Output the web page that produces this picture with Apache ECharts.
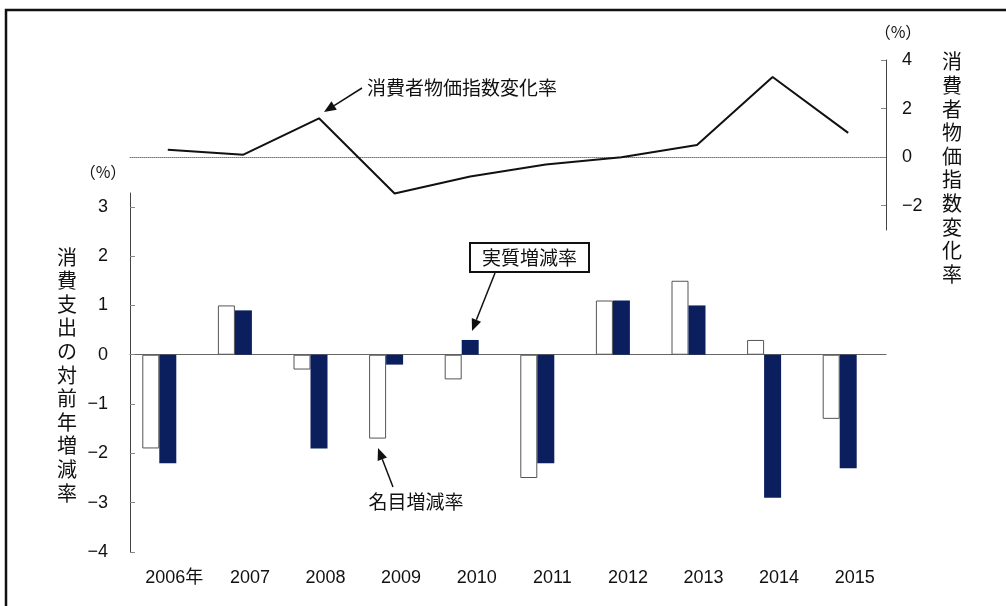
<!DOCTYPE html>
<html>
<head>
<meta charset="utf-8">
<script src="https://cdn.jsdelivr.net/npm/echarts@6/dist/echarts.min.js"></script>
<style>
html,body{margin:0;padding:0;background:#fff;}
#chart{width:1006px;height:606px;}
</style>
</head>
<body>
<div id="chart"></div>
<script>
// ---- data ----
const years = ['2006年','2007','2008','2009','2010','2011','2012','2013','2014','2015'];
const nominal = [-1.9, 1.0, -0.3, -1.7, -0.5, -2.5, 1.1, 1.5, 0.3, -1.3];
const real = [-2.2, 0.9, -1.9, -0.2, 0.3, -2.2, 1.1, 1.0, -2.9, -2.3];
const cpi = [0.3, 0.1, 1.6, -1.5, -0.8, -0.3, 0.0, 0.5, 3.3, 1.0];
const leftTicks = [-4, -3, -2, -1, 0, 1, 2, 3];
const rightTicks = [-2, 0, 2, 4];
const leftName = '消費支出の対前年増減率';
const rightName = '消費者物価指数変化率';
const spacer = years.map(() => null);

const NUM = '"Liberation Sans Narrow","Liberation Sans","Noto Sans CJK JP",sans-serif';
const CJK = '"Noto Sans CJK JP",sans-serif';
const minus = v => String(v).replace('-', '−');

function arrow(x1, y1, x2, y2) {
  const dx = x2 - x1, dy = y2 - y1, L = Math.hypot(dx, dy);
  const ux = dx / L, uy = dy / L, hl = 12, hw = 5;
  const bx = x2 - ux * hl, by = y2 - uy * hl;
  return [
    { type: 'line', shape: { x1: x1, y1: y1, x2: bx, y2: by }, style: { stroke: '#111', lineWidth: 1.5 } },
    { type: 'polygon', shape: { points: [[x2, y2], [bx - uy * hw, by + ux * hw], [bx + uy * hw, by - ux * hw]] }, style: { fill: '#111' } }
  ];
}

const chart = echarts.init(document.getElementById('chart'), null, { renderer: 'canvas' });
chart.setOption({
  backgroundColor: '#fff',
  animation: false,
  grid: [
    { left: 130, right: 120, top: 193, bottom: 54 },
    { left: 130, right: 120, top: 60, bottom: 376 }
  ],
  xAxis: [
    { type: 'category', gridIndex: 0, data: years,
      axisLine: { onZero: true, lineStyle: { color: '#666', width: 1 } },
      axisTick: { show: false }, axisLabel: { show: false } },
    { type: 'category', gridIndex: 0, data: years, position: 'bottom',
      axisLine: { show: false, onZero: false }, axisTick: { show: false },
      axisLabel: { interval: 0, hideOverlap: false, color: '#111', fontSize: 18, fontFamily: NUM, margin: 17, padding: [0, 0, 0, 13] } },
    { type: 'category', gridIndex: 1, data: years,
      axisLine: { onZero: true, lineStyle: { color: '#777', width: 1, type: 'dotted' } },
      axisTick: { show: false }, axisLabel: { show: false } }
  ],
  yAxis: [
    { type: 'value', gridIndex: 0, min: -4, max: 3.28,
      axisLine: { show: true, lineStyle: { color: '#444' } },
      axisTick: { show: true, inside: true, length: 5, lineStyle: { color: '#888' }, customValues: leftTicks },
      axisLabel: { color: '#111', fontSize: 18, fontFamily: NUM, margin: 22, customValues: leftTicks, formatter: minus },
      splitLine: { show: false } },
    { type: 'value', gridIndex: 1, position: 'right', min: -3, max: 4,
      axisLine: { show: true, lineStyle: { color: '#444' } },
      axisTick: { show: true, inside: true, length: 5, lineStyle: { color: '#888' }, customValues: rightTicks },
      axisLabel: { color: '#111', fontSize: 18, fontFamily: NUM, margin: 16, customValues: rightTicks, formatter: minus },
      splitLine: { show: false } }
  ],
  series: [
    { name: '名目増減率', type: 'bar', xAxisIndex: 0, yAxisIndex: 0, data: nominal, barWidth: 17, barGap: '0%',
      itemStyle: { color: '#fff', borderColor: '#555', borderWidth: 1 } },
    { name: '実質増減率', type: 'bar', xAxisIndex: 0, yAxisIndex: 0, data: real, barWidth: 17, barGap: '0%',
      itemStyle: { color: '#0b1f5e' } },
    { name: 'spacer', type: 'bar', xAxisIndex: 0, yAxisIndex: 0, data: spacer, barWidth: 17, barGap: '0%',
      itemStyle: { color: 'transparent' }, silent: true },
    { name: '消費者物価指数変化率', type: 'line', xAxisIndex: 2, yAxisIndex: 1, data: cpi,
      symbol: 'none', lineStyle: { color: '#111', width: 2 } }
  ],
  graphic: [
    { type: 'rect', shape: { x: 6, y: 10, width: 1020, height: 640 }, style: { fill: 'none', stroke: '#111', lineWidth: 2.5 } },
    { type: 'text', x: 103, y: 172, style: { text: '（%）', font: '16px ' + CJK, fill: '#111', align: 'center', verticalAlign: 'middle' } },
    { type: 'text', x: 898, y: 32, style: { text: '（%）', font: '16px ' + CJK, fill: '#111', align: 'center', verticalAlign: 'middle' } },
    { type: 'text', x: 67, y: 375, style: { text: leftName.split('').join('\n'), font: '20px ' + CJK, lineHeight: 23.6, fill: '#111', align: 'center', verticalAlign: 'middle' } },
    { type: 'text', x: 952, y: 168, style: { text: rightName.split('').join('\n'), font: '20px ' + CJK, lineHeight: 23.6, fill: '#111', align: 'center', verticalAlign: 'middle' } },
    { type: 'text', x: 367, y: 88, style: { text: '消費者物価指数変化率', font: '19px ' + CJK, fill: '#111', align: 'left', verticalAlign: 'middle' } },
    { type: 'rect', shape: { x: 470, y: 243, width: 119, height: 29 }, style: { fill: '#fff', stroke: '#111', lineWidth: 2 } },
    { type: 'text', x: 529.5, y: 257.5, style: { text: '実質増減率', font: '19px ' + CJK, fill: '#111', align: 'center', verticalAlign: 'middle' } },
    { type: 'text', x: 416, y: 502, style: { text: '名目増減率', font: '19px ' + CJK, fill: '#111', align: 'center', verticalAlign: 'middle' } }
  ].concat(arrow(362, 88, 324, 112), arrow(495, 273, 472, 331), arrow(393, 487, 378, 448))
});
</script>
</body>
</html>
